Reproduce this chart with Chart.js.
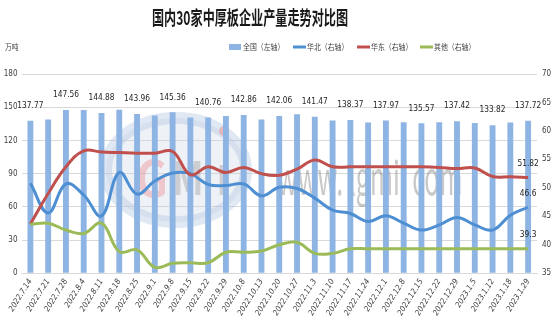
<!DOCTYPE html>
<html>
<head>
<meta charset="utf-8">
<script src="https://cdn.jsdelivr.net/npm/chart.js@4.4.1/dist/chart.umd.min.js"></script>
<style>
  html, body { margin: 0; padding: 0; background: #ffffff; }
  #wrap { width: 554px; height: 332px; position: relative; }
</style>
</head>
<body>
<div id="wrap"><canvas id="c" width="554" height="332"></canvas></div>
<script>
// Weekly dates
const categories = [
  '2022.7.14', '2022.7.21', '2022.7.28', '2022.8.4', '2022.8.11', '2022.8.18', '2022.8.25',
  '2022.9.1', '2022.9.8', '2022.9.15', '2022.9.22', '2022.9.29', '2022.10.8', '2022.10.13',
  '2022.10.20', '2022.10.27', '2022.11.3', '2022.11.10', '2022.11.17', '2022.11.24', '2022.12.1',
  '2022.12.8', '2022.12.15', '2022.12.22', '2022.12.29', '2023.1.5', '2023.1.12', '2023.1.18',
  '2023.1.29'
];

// 全国 output, 万吨 (left axis)
const nationalOutput = [
  137.77, 139.0, 147.56, 147.5, 144.88, 147.6, 143.96,
  142.5, 145.36, 140.7, 140.76, 142.0, 142.86, 138.9,
  142.06, 143.6, 141.47, 138.0, 138.37, 136.2, 137.97,
  136.5, 135.57, 136.5, 137.42, 135.8, 133.82, 136.2,
  137.72
];

// Regional output, 万吨 (right axis)
const northChina = [
  50.8, 45.6, 50.7, 48.75, 45.06, 52.7, 48.9,
  51.2, 52.6, 52.5, 50.6, 50.4, 50.7, 48.6,
  50.1, 49.9, 48.2, 46.1, 45.5, 44.1, 45.1,
  43.8, 42.6, 43.5, 44.8, 43.5, 42.6, 45.2,
  46.6
];
const eastChina = [
  43.66, 49.0, 53.7, 56.5, 56.3, 56.2, 56.1,
  56.1, 56.4, 52.3, 53.7, 52.7, 53.6, 52.5,
  52.2, 53.3, 54.9, 53.7, 53.7, 53.7, 53.7,
  53.7, 53.7, 53.6, 53.4, 53.5, 52.0, 51.95,
  51.82
];
const otherRegions = [
  43.6, 43.8, 42.6, 42.0, 43.8, 38.8, 39.1,
  36.05, 36.75, 36.85, 36.85, 38.7, 38.7, 38.9,
  40.0, 40.45, 38.5, 38.5, 39.3, 39.3, 39.3,
  39.3, 39.3, 39.3, 39.3, 39.3, 39.3, 39.3,
  39.3
];

const leftTicks = [0, 30, 60, 90, 120, 150, 180];
const rightTicks = [35, 40, 45, 50, 55, 60, 65, 70];
const seriesNames = ['全国（左轴）', '华北（右轴）', '华东（右轴）', '其他（右轴）'];
const chartTitle = '国内30家中厚板企业产量走势对比图';
const unitLabel = '万吨';

const COLORS = {
  bar: '#8DB4E2',
  north: '#4E8FD3',
  east: '#C0504D',
  other: '#9BBB59',
  grid: '#D9D9D9',
  text: '#404040'
};
const NARROW = "'Liberation Sans Narrow', 'DejaVu Sans Condensed', 'Arial Narrow', 'Noto Sans CJK SC', sans-serif";
const CJK = "'Noto Sans CJK SC', 'Noto Sans', sans-serif";

// Draw text squeezed horizontally by scaleX
function drawNarrow(ctx, text, x, y, font, scaleX, align, color) {
  ctx.save();
  ctx.font = font;
  ctx.fillStyle = color;
  ctx.textBaseline = 'middle';
  ctx.textAlign = 'left';
  const w = ctx.measureText(text).width * scaleX;
  const left = align === 'center' ? x - w / 2 : (align === 'right' ? x - w : x);
  ctx.translate(left, y);
  ctx.scale(scaleX, 1);
  ctx.fillText(text, 0, 0);
  ctx.restore();
}

// Draw text stretched/squeezed to a given width
function drawFitted(ctx, text, cx, y, font, width, color) {
  ctx.save();
  ctx.font = font;
  const s = width / ctx.measureText(text).width;
  ctx.restore();
  drawNarrow(ctx, text, cx, y, font, s, 'center', color);
}

// Faint site watermark beneath the data
const watermark = {
  id: 'watermark',
  beforeDatasetsDraw(chart) {
    const ctx = chart.ctx;
    ctx.save();
    // globe ring
    ctx.beginPath();
    ctx.ellipse(176, 170, 70, 52, 0, 0, Math.PI * 2);
    ctx.fillStyle = 'rgba(200, 212, 230, 0.30)';
    ctx.fill();
    ctx.lineWidth = 12;
    ctx.strokeStyle = 'rgba(165, 190, 220, 0.35)';
    ctx.stroke();
    ctx.restore();
    drawNarrow(ctx, 'G', 152, 178, 'bold 50px ' + CJK, 0.9, 'center', 'rgba(235, 120, 120, 0.35)');
    drawNarrow(ctx, 'M', 188, 178, 'bold 46px ' + CJK, 0.8, 'center', 'rgba(140, 140, 140, 0.35)');
    drawNarrow(ctx, 'I', 222, 180, 'bold 40px ' + CJK, 0.8, 'center', 'rgba(140, 140, 140, 0.35)');
    ctx.save();
    ctx.beginPath();
    ctx.arc(224, 131, 5, 0, Math.PI * 2);
    ctx.fillStyle = 'rgba(235, 130, 130, 0.45)';
    ctx.fill();
    ctx.restore();
    drawFitted(ctx, 'www. lgmi. com', 370, 178, '46px ' + CJK, 185, 'rgba(120, 120, 120, 0.40)');
  }
};

// Title, unit label and legend row
const header = {
  id: 'header',
  afterDraw(chart) {
    const ctx = chart.ctx;
    drawFitted(ctx, chartTitle, 250, 18, 'bold 19px ' + CJK, 196, '#1a1a1a');
    drawNarrow(ctx, unitLabel, 5, 47, '8px ' + CJK, 0.85, 'left', COLORS.text);

    const ds = chart.data.datasets;
    const items = [
      { x: 229, text: 292 - 243 },
      { x: 293 },
      { x: 357 },
      { x: 420 }
    ];
    const y = 47;
    // bar swatch
    ctx.save();
    ctx.fillStyle = ds[0].backgroundColor;
    ctx.fillRect(229, 44, 12, 6);
    ctx.restore();
    drawNarrow(ctx, ds[0].label, 243, y, '8px ' + CJK, 0.86, 'left', COLORS.text);
    for (let k = 1; k < 4; k++) {
      const x0 = items[k].x;
      ctx.save();
      ctx.strokeStyle = ds[k].borderColor;
      ctx.lineWidth = 3;
      ctx.beginPath();
      ctx.moveTo(x0, y);
      ctx.lineTo(x0 + 13, y);
      ctx.stroke();
      ctx.restore();
      drawNarrow(ctx, ds[k].label, x0 + 14, y, '8px ' + CJK, 0.86, 'left', COLORS.text);
    }
  }
};

// Value labels: every other bar, and the latest point of each line
const valueLabels = {
  id: 'valueLabels',
  afterDatasetsDraw(chart) {
    const ctx = chart.ctx;
    const barMeta = chart.getDatasetMeta(0);
    const bars = chart.data.datasets[0].data;
    barMeta.data.forEach((el, i) => {
      if (i % 2 !== 0) return;
      drawNarrow(ctx, bars[i].toFixed(2), el.x, el.y - 15, '9px ' + NARROW, 0.92, 'center', '#262626');
    });
    for (let k = 1; k < 4; k++) {
      const meta = chart.getDatasetMeta(k);
      const data = chart.data.datasets[k].data;
      const last = data.length - 1;
      const pt = meta.data[last];
      drawNarrow(ctx, String(data[last]), pt.x, pt.y - 14, '9px ' + NARROW, 0.92, 'center', '#262626');
    }
  }
};

new Chart(document.getElementById('c'), {
  data: {
    labels: categories,
    datasets: [
      {
        type: 'bar',
        label: seriesNames[0],
        data: nationalOutput,
        yAxisID: 'yL',
        backgroundColor: COLORS.bar,
        borderWidth: 0,
        barPercentage: 0.33,
        categoryPercentage: 1.0,
        order: 3
      },
      {
        type: 'line',
        label: seriesNames[1],
        data: northChina,
        yAxisID: 'yR',
        borderColor: COLORS.north,
        backgroundColor: COLORS.north,
        borderWidth: 3,
        pointRadius: 0,
        tension: 0.4,
        order: 2
      },
      {
        type: 'line',
        label: seriesNames[2],
        data: eastChina,
        yAxisID: 'yR',
        borderColor: COLORS.east,
        backgroundColor: COLORS.east,
        borderWidth: 3,
        pointRadius: 0,
        tension: 0.4,
        order: 1
      },
      {
        type: 'line',
        label: seriesNames[3],
        data: otherRegions,
        yAxisID: 'yR',
        borderColor: COLORS.other,
        backgroundColor: COLORS.other,
        borderWidth: 3,
        pointRadius: 0,
        tension: 0.4,
        order: 0
      }
    ]
  },
  options: {
    responsive: false,
    devicePixelRatio: 1,
    animation: false,
    layout: { padding: { top: 74, left: 0, right: 0, bottom: 0 } },
    plugins: {
      legend: { display: false },
      title: { display: false },
      tooltip: { enabled: false }
    },
    scales: {
      x: {
        offset: true,
        grid: { display: false, drawTicks: false },
        border: { display: true, color: COLORS.grid, width: 1 },
        ticks: {
          autoSkip: false,
          minRotation: 58,
          maxRotation: 58,
          padding: 4,
          color: COLORS.text,
          font: { family: NARROW, size: 8, style: 'italic' }
        },
        afterFit(scale) { scale.height = 58.7; }
      },
      yL: {
        type: 'linear',
        position: 'left',
        min: leftTicks[0],
        max: leftTicks[leftTicks.length - 1],
        afterBuildTicks(scale) { scale.ticks = leftTicks.map(v => ({ value: v })); },
        grid: { color: COLORS.grid, drawTicks: false, lineWidth: 1 },
        border: { display: false },
        ticks: { padding: 4, color: COLORS.text, font: { family: NARROW, size: 8 } },
        afterFit(scale) { scale.width = 21.5; }
      },
      yR: {
        type: 'linear',
        position: 'right',
        min: rightTicks[0],
        max: rightTicks[rightTicks.length - 1],
        afterBuildTicks(scale) { scale.ticks = rightTicks.map(v => ({ value: v })); },
        grid: { display: false, drawTicks: false },
        border: { display: false },
        ticks: { padding: 5, color: COLORS.text, font: { family: NARROW, size: 8 } },
        afterFit(scale) { scale.width = 17; }
      }
    }
  },
  plugins: [watermark, header, valueLabels]
});
</script>
</body>
</html>
